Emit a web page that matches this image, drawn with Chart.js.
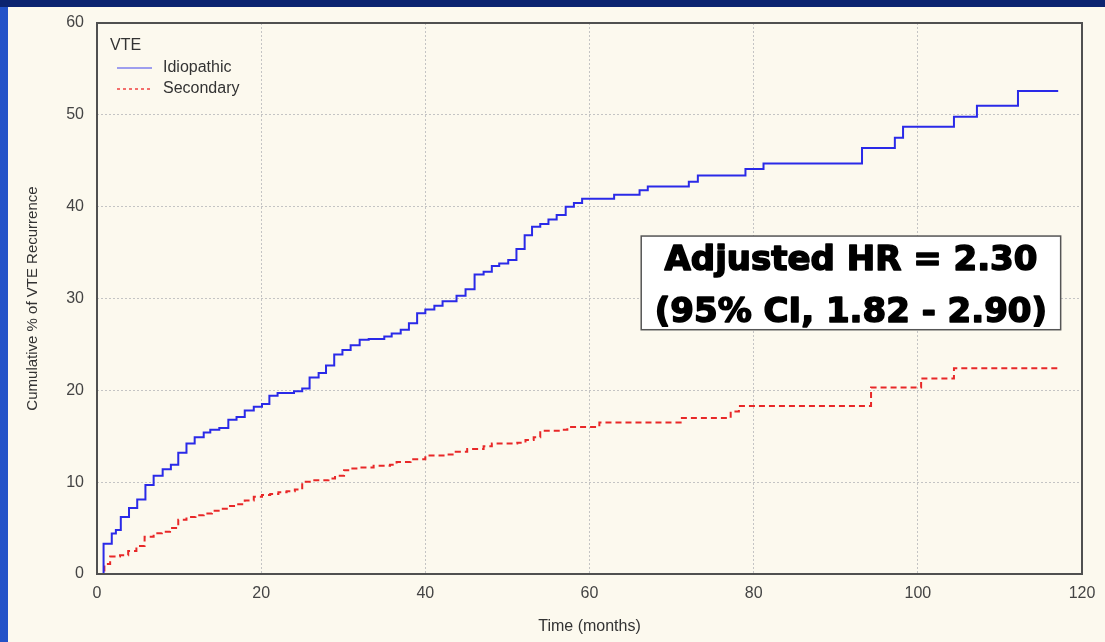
<!DOCTYPE html>
<html>
<head>
<meta charset="utf-8">
<script src="https://cdn.jsdelivr.net/npm/chart.js@4.4.1/dist/chart.umd.min.js"></script>
<style>
  html, body { margin: 0; padding: 0; }
  body {
    width: 1105px; height: 642px; overflow: hidden;
    background: linear-gradient(to right, #2352c8 0%, #1c44b0 50%, #2a5ad0 100%);
    position: relative;
  }
  #topbar { position: absolute; left: 0; top: 0; width: 1105px; height: 7px; background: #0c2470; }
  #panel {
    position: absolute; left: 8px; top: 7px; width: 1097px; height: 635px;
    background: #fcf9ee;
  }
</style>
</head>
<body>
<div id="topbar"></div>
<div id="panel"><canvas id="placeholder1" width="1097" height="635"></canvas></div>
<script>
// Kaplan-Meier style cumulative recurrence
const idioMonths = [0, 0.8, 1.8, 2.3, 2.9, 3.9, 4.9, 5.9, 6.9, 8.0, 9.0, 9.9, 10.9, 11.9, 13.0, 13.8, 14.9,
  16.0, 17.0, 18.0, 19.1, 20.1, 21.0, 22.0, 24.0, 25.0, 25.9, 27.0, 27.9, 28.9, 29.9, 30.9, 32.0, 33.1,
  35.0, 35.9, 37.0, 38.0, 39.0, 40.0, 41.1, 42.1, 43.8, 44.9, 46.0, 47.1, 48.1, 49.0, 50.1, 51.1, 52.1,
  53.0, 54.0, 55.0, 56.0, 57.1, 58.1, 59.1, 63.0, 66.1, 67.1, 72.1, 73.2, 79.0, 81.2, 93.2, 97.2, 98.2,
  104.4, 107.2, 112.2, 117.1];
const idioPct = [0, 3.3, 4.4, 4.8, 6.2, 7.2, 8.1, 9.7, 10.7, 11.4, 11.9, 13.2, 14.2, 14.9, 15.4, 15.7, 15.9,
  16.8, 17.1, 17.8, 18.2, 18.5, 19.4, 19.7, 19.9, 20.2, 21.4, 21.9, 22.7, 23.9, 24.4, 24.9, 25.5, 25.6,
  25.85, 26.2, 26.6, 27.3, 28.4, 28.8, 29.2, 29.7, 30.3, 31.0, 32.6, 32.9, 33.55, 33.8, 34.2, 35.4, 36.9,
  37.8, 38.1, 38.6, 39.1, 40.0, 40.4, 40.85, 41.3, 41.8, 42.2, 42.7, 43.4, 44.1, 44.7, 46.4, 47.5, 48.7,
  49.8, 51.0, 52.6, 52.6];

const secMonths = [0, 0.9, 1.6, 2.8, 3.8, 4.8, 5.8, 6.9, 7.9, 8.9, 9.9, 10.9, 12.0, 13.0, 14.0, 15.0, 16.0,
  17.0, 18.0, 19.1, 20.1, 21.1, 22.1, 23.1, 24.1, 25.0, 26.2, 28.2, 29.0, 30.1, 30.9, 32.0, 33.7, 35.7,
  36.5, 38.2, 40.0, 42.6, 43.7, 45.1, 47.1, 48.1, 51.2, 52.2, 53.2, 54.0, 56.5, 57.3, 61.2, 71.1, 77.2,
  78.2, 94.3, 100.4, 104.4, 117.1];
const secPct = [0, 1.1, 1.9, 2.05, 2.5, 3.05, 4.06, 4.43, 4.6, 5.0, 5.9, 6.2, 6.4, 6.6, 6.9, 7.1, 7.4,
  7.6, 8.0, 8.4, 8.6, 8.7, 8.9, 9.0, 9.2, 10.05, 10.2, 10.4, 10.7, 11.3, 11.5, 11.6, 11.8, 11.9,
  12.2, 12.5, 12.9, 13.0, 13.3, 13.6, 13.9, 14.2, 14.3, 14.6, 14.9, 15.6, 15.7, 16.0, 16.5, 17.0, 17.7,
  18.3, 20.3, 21.3, 22.4, 22.4];

const xTicks = [0, 20, 40, 60, 80, 100, 120];
const yTicks = [0, 10, 20, 30, 40, 50, 60];
const hrLines = ['Adjusted HR = 2.30', '(95% CI, 1.82 - 2.90)'];

const toPoints = (xs, ys) => xs.map((x, i) => ({ x: x, y: ys[i] }));

// frame around the plot, legend in the corner, HR box
const decorations = {
  id: 'decorations',
  afterDatasetsDraw(chart) {
    const { ctx, chartArea: a, scales } = chart;
    ctx.save();
    ctx.strokeStyle = '#505050';
    ctx.lineWidth = 2;
    ctx.strokeRect(a.left, a.top, a.right - a.left, a.bottom - a.top);

    // legend
    ctx.font = '16px "Liberation Sans", Arial, sans-serif';
    ctx.fillStyle = '#333';
    ctx.textBaseline = 'middle';
    ctx.textAlign = 'left';
    const lx = a.left + 13, ly = a.top + 23;
    ctx.fillText('VTE', lx, ly);
    chart.data.datasets.forEach((ds, i) => {
      const y = ly + 22 + i * 21;
      ctx.beginPath();
      ctx.strokeStyle = i === 0 ? '#7f7fee' : '#f04040';
      ctx.lineWidth = 1.5;
      ctx.setLineDash(i === 0 ? [] : [3, 3]);
      ctx.moveTo(lx + 7, y);
      ctx.lineTo(lx + 42, y);
      ctx.stroke();
      ctx.setLineDash([]);
      ctx.fillText(ds.label, lx + 53, y);
    });

    // HR annotation box
    const x0 = scales.x.getPixelForValue(66.3), x1 = scales.x.getPixelForValue(117.4);
    const y0 = scales.y.getPixelForValue(36.8), y1 = scales.y.getPixelForValue(26.6);
    ctx.fillStyle = '#ffffff';
    ctx.fillRect(x0, y0, x1 - x0, y1 - y0);
    ctx.strokeStyle = '#555';
    ctx.lineWidth = 1.5;
    ctx.strokeRect(x0, y0, x1 - x0, y1 - y0);
    ctx.font = 'bold 34px "DejaVu Sans", sans-serif';
    ctx.textAlign = 'center';
    ctx.fillStyle = '#000';
    ctx.strokeStyle = '#000';
    ctx.lineWidth = 1.6;
    ctx.lineJoin = 'round';
    const cx = (x0 + x1) / 2;
    [y0 + 25, y0 + 77].forEach((ty, i) => {
      ctx.fillText(hrLines[i], cx, ty);
      ctx.strokeText(hrLines[i], cx, ty);
    });
    ctx.restore();
  }
};

const tickFont = { family: '"Liberation Sans", Arial, sans-serif', size: 16 };

const config = {
  type: 'line',
  data: {
    datasets: [
      {
        label: 'Idiopathic',
        data: toPoints(idioMonths, idioPct),
        borderColor: '#2a2ae8',
        borderWidth: 2,
        stepped: 'before',
        pointRadius: 0
      },
      {
        label: 'Secondary',
        data: toPoints(secMonths, secPct),
        borderColor: '#e82828',
        borderWidth: 2,
        borderDash: [6, 4],
        stepped: 'before',
        pointRadius: 0
      }
    ]
  },
  options: {
    responsive: false,
    animation: false,
    layout: { autoPadding: false, padding: { top: 16, right: 23, left: 0, bottom: 0 } },
    plugins: {
      legend: { display: false },
      tooltip: { enabled: false }
    },
    scales: {
      x: {
        type: 'linear',
        min: 0,
        max: 120,
        afterBuildTicks: (s) => { s.ticks = xTicks.map(v => ({ value: v })); },
        afterFit: (s) => { s.height = 68; s.paddingLeft = 0; s.paddingRight = 0; },
        grid: { color: '#c4c4c4', drawTicks: false },
        border: { display: false, dash: [2, 2] },
        ticks: { color: '#444', font: tickFont, padding: 10 },
        title: {
          display: true,
          text: 'Time (months)',
          color: '#333',
          font: tickFont,
          padding: { top: 0, bottom: 6 }
        }
      },
      y: {
        min: 0,
        max: 60,
        afterBuildTicks: (s) => { s.ticks = yTicks.map(v => ({ value: v })); },
        afterFit: (s) => { s.width = 89; s.paddingTop = 0; s.paddingBottom = 0; },
        grid: { color: '#c4c4c4', drawTicks: false },
        border: { display: false, dash: [2, 2] },
        ticks: { color: '#444', font: tickFont, padding: 13 },
        title: {
          display: true,
          text: 'Cumulative % of VTE Recurrence',
          color: '#333',
          font: { family: '"Liberation Sans", Arial, sans-serif', size: 15 },
          padding: { top: 16, bottom: 0 }
        }
      }
    }
  },
  plugins: [decorations]
};

const ctx = document.getElementById('placeholder1');
new Chart(ctx, config);
</script>
</body>
</html>
